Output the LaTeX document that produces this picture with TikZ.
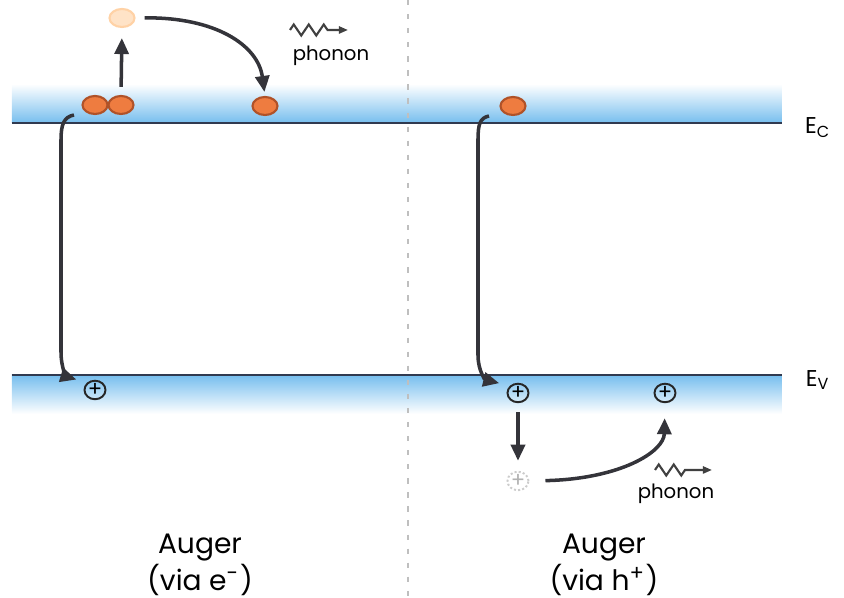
\documentclass[tikz,border=0pt]{standalone}
\usepackage{fontspec}
\setmainfont{Poppins}
\usetikzlibrary{arrows.meta,shapes.geometric,decorations.pathmorphing}
\definecolor{bandblue}{RGB}{118,190,238}
\definecolor{levelline}{RGB}{48,58,80}
\definecolor{elorange}{RGB}{238,124,64}
\definecolor{eledge}{RGB}{176,82,40}
\definecolor{arrowgray}{RGB}{52,52,58}
\tikzset{
  electron/.style={ellipse,draw=eledge,fill=elorange,line width=0.6pt,
    minimum width=0.25cm,minimum height=0.18cm,inner sep=0pt},
  paleelectron/.style={electron,draw=orange!35,fill=orange!22},
  hole/.style={ellipse,draw=black!85,line width=0.55pt,minimum width=0.21cm,
    minimum height=0.16cm,inner sep=0pt,font=\fontsize{6}{6}\selectfont},
  paleole/.style={hole,draw=black!20,text=black!30,dash pattern=on 0.6pt off 0.6pt},
  auger/.style={-{Triangle[length=0.16cm,width=0.14cm]},arrowgray,line width=1pt},
  phonon/.style={-{Triangle[length=0.09cm,width=0.07cm]},black!75,line width=0.6pt,
    decorate,decoration={zigzag,segment length=0.15cm,amplitude=0.055cm,
    post=lineto,post length=0.2cm}},
  level/.style={levelline,line width=0.75pt},
}

\begin{document}
\begin{tikzpicture}[x=0.01cm,y=-0.01cm]
  \useasboundingbox (0,0) rectangle (844,598);
  \shade[top color=white,bottom color=bandblue] (12,84) rectangle (782,123);
  \shade[top color=bandblue,bottom color=white] (12,375) rectangle (782,414);
  \draw[level] (12,123) -- (782,123);
  \draw[level] (12,375) -- (782,375);
  \draw[black!25,line width=0.4pt,dash pattern=on 1.5pt off 2.5pt] (408,0) -- (408,598);
  \node[font=\fontsize{6.5}{7}\selectfont] (Ec) at (818,128) {E\textsubscript{C}};
  \node[font=\fontsize{6.5}{7}\selectfont] (Ev) at (818,380) {E\textsubscript{V}};

  \node[electron] (e1) at (95,105) {};
  \node[electron] (e2) at (121,105) {};
  \node[electron] (e3) at (265,106) {};
  \node[paleelectron] (eup) at (122,18) {};
  \node[electron] (e4) at (513,106) {};
  \node[hole] (h1) at (95,390) {+};
  \node[hole] (h2) at (518,393) {+};
  \node[hole] (h3) at (665,393) {+};
  \node[paleole] (hdown) at (518,481) {+};

  \draw[auger,shorten <=0.08cm,shorten >=0.1cm] (e2.north) -- (eup.south);
  \draw[auger,shorten <=0.09cm,shorten >=0.04cm] (eup.east) .. controls (215,17) and (258,45) .. (e3.north);
  \coordinate (r1) at (74,115);
  \draw[auger,shorten >=0.11cm] (r1) .. controls (64,117) and (61,124) .. (61,140) -- (61,352)
    .. controls (61,370) and (68,377) .. (h1.north west);
  \coordinate (r2) at (489,116);
  \draw[auger,shorten >=0.11cm] (r2) .. controls (480,118) and (478,124) .. (478,140) -- (478,355)
    .. controls (478,372) and (486,380) .. (h2.north west);
  \draw[auger,shorten <=0.09cm,shorten >=0.1cm] (h2.south) -- (hdown.north);
  \draw[auger,shorten <=0.16cm,shorten >=0.15cm] (hdown.east) .. controls (620,479) and (664,452) .. (h3.south);

  \node[font=\fontsize{5.6}{6}\selectfont] (ph1) at (331,56) {phonon};
  \draw[phonon] (290,30) -- (348,30);
  \node[font=\fontsize{5.6}{6}\selectfont] (ph2) at (676,494) {phonon};
  \draw[phonon] (655,470) -- (712,470);

  \node[align=center,font=\fontsize{8}{9.5}\selectfont] (lab1) at (200,565) {Auger\\(via e\textsuperscript{-})};
  \node[align=center,font=\fontsize{8}{9.5}\selectfont] (lab2) at (604,565) {Auger\\(via h\textsuperscript{+})};
\end{tikzpicture}
\end{document}
